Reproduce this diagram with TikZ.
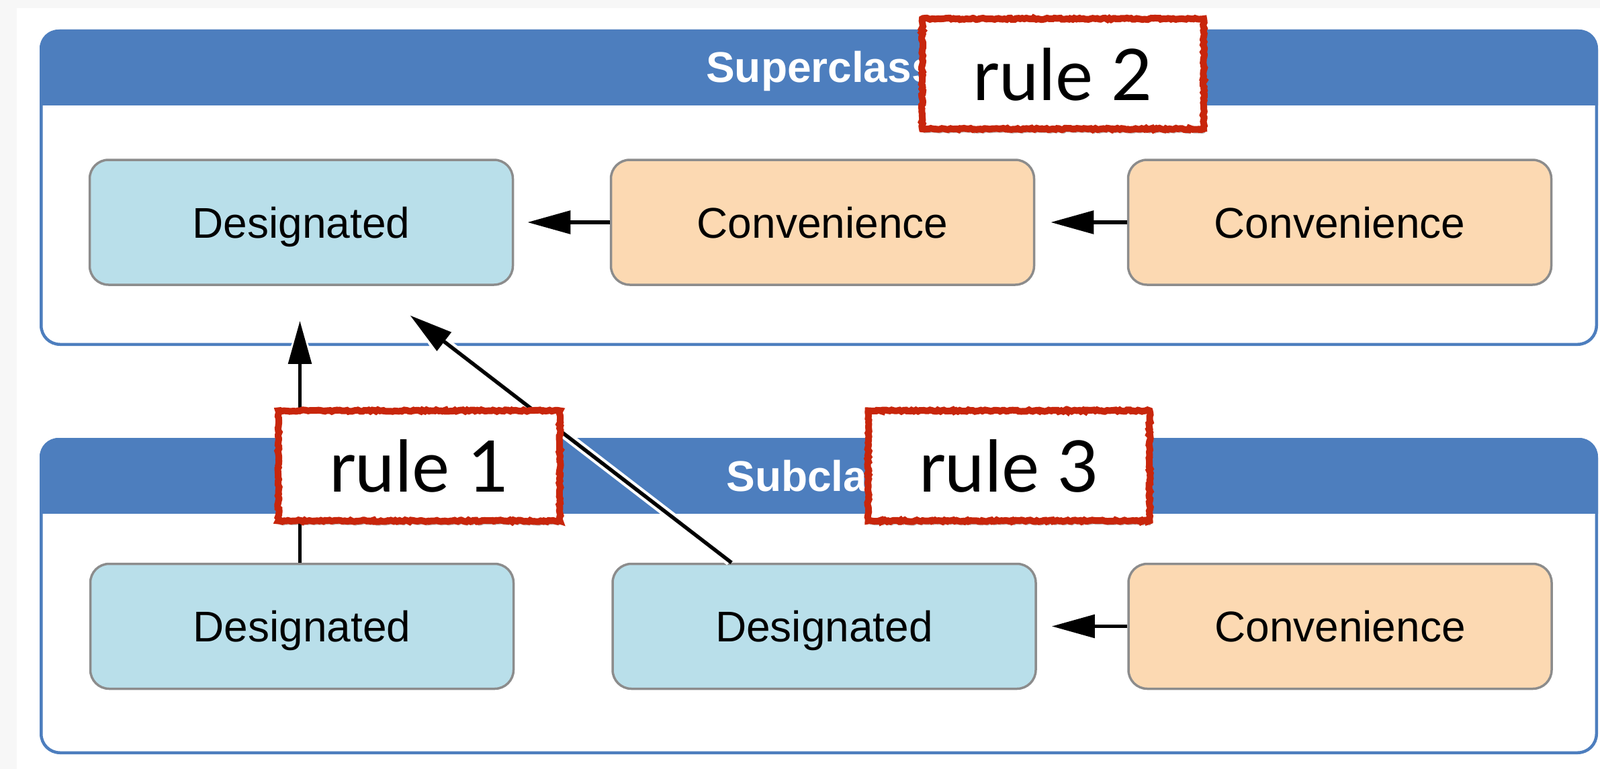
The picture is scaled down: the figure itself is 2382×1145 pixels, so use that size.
\documentclass[tikz,border=0pt]{standalone}
\usepackage{fontspec}
\newfontfamily\helv{Liberation Sans}
\newfontfamily\rulefont{Lato}
\usetikzlibrary{arrows.meta,shadows,decorations.pathmorphing}
\definecolor{bggray}{RGB}{247,247,247}
\definecolor{hblue}{RGB}{77,126,190}
\definecolor{dblue}{RGB}{185,223,234}
\definecolor{corange}{RGB}{252,217,178}
\definecolor{bgray}{RGB}{140,140,140}
\definecolor{rred}{RGB}{200,38,12}
\begin{document}
\begin{tikzpicture}[x=1pt,y=-1pt,
  classframe/.style={draw=hblue,line width=4.5pt,fill=white,rounded corners=28pt},
  headfill/.style={fill=hblue,rounded corners=28pt},
  headtitle/.style={text=white,font=\helv\bfseries\fontsize{64}{64}\selectfont,text height=46pt,text depth=0pt,inner sep=0pt},
  method/.style={rectangle,rounded corners=28pt,draw=bgray,line width=3.5pt,minimum width=630pt,minimum height=186pt,inner sep=0pt,font=\helv\fontsize{64}{64}\selectfont,text height=46pt,text depth=0pt},
  desig/.style={method,fill=dblue},
  conv/.style={method,fill=corange},
  arr/.style={line width=5.5pt,-{Triangle[length=64pt,width=34pt]}},
  halo/.style={draw=white,line width=14pt,shorten <=3pt,-{Triangle[length=74pt,width=50pt]}},
  rulebox/.style={rectangle,draw=rred,line width=10pt,fill=white,minimum width=419pt,minimum height=164pt,inner sep=0pt,
    font=\rulefont\fontsize{106}{106}\selectfont,text depth=0pt,
    decorate,decoration={random steps,segment length=3pt,amplitude=1.2pt},
    drop shadow={shadow xshift=2pt,shadow yshift=-6pt,opacity=0.25,fill=black}}
]
\useasboundingbox (0,0) rectangle (2382,1145);
\fill[bggray] (0,0) rectangle (2382,1145);
\fill[white] (25,12) rectangle (2382,1145);

% superclass frame
\draw[classframe] (61.25,46.25) rectangle (2376.75,512.75);
\begin{scope}
  \clip (40,30) rectangle (2390,156);
  \fill[headfill] (59,44) rectangle (2379,400);
\end{scope}
\node[headtitle] (suptitle) at (1222,99.5) {Superclass};

% subclass frame
\draw[classframe] (61.25,654.25) rectangle (2376.75,1120.75);
\begin{scope}
  \clip (40,640) rectangle (2390,764);
  \fill[headfill] (59,652) rectangle (2379,1000);
\end{scope}
\node[headtitle] (subtitle) at (1222,708.5) {Subclass};

% method boxes
\node[desig] (SD)  at (448.5,331)  {Designated};
\node[conv]  (SC1) at (1224.5,331) {Convenience};
\node[conv]  (SC2) at (1994.5,331) {Convenience};
\node[desig] (BD1) at (449.5,932.5) {Designated};
\node[desig] (BD2) at (1227,932.5)  {Designated};
\node[conv]  (BC)  at (1995,932.5)  {Convenience};

% halos for crossing arrows
\draw[halo,shorten >=52pt] ([xshift=-3pt]BD1.north) -- ([xshift=-3pt]BD1.north |- SD.south);
\draw[halo,shorten >=72pt] ([xshift=-138pt]BD2.north) -- ([xshift=105pt]SD.south);

% arrows
\draw[arr,shorten >=20pt] (SC1.west) -- (SD.east);
\draw[arr,shorten >=23pt] (SC2.west) -- (SC1.east);
\draw[arr,shorten >=22pt] (BC.west) -- (BD2.east);
\draw[arr,shorten >=52pt] ([xshift=-3pt]BD1.north) -- ([xshift=-3pt]BD1.north |- SD.south);
\draw[arr,shorten >=72pt] ([xshift=-138pt]BD2.north) -- ([xshift=105pt]SD.south);

% rule labels
\node[rulebox] (R2) at (1582.5,110) {rule 2};
\node[rulebox] (R1) at (624,693.5) {rule 1};
\node[rulebox] (R3) at (1502,693.5) {rule 3};
\end{tikzpicture}
\end{document}
